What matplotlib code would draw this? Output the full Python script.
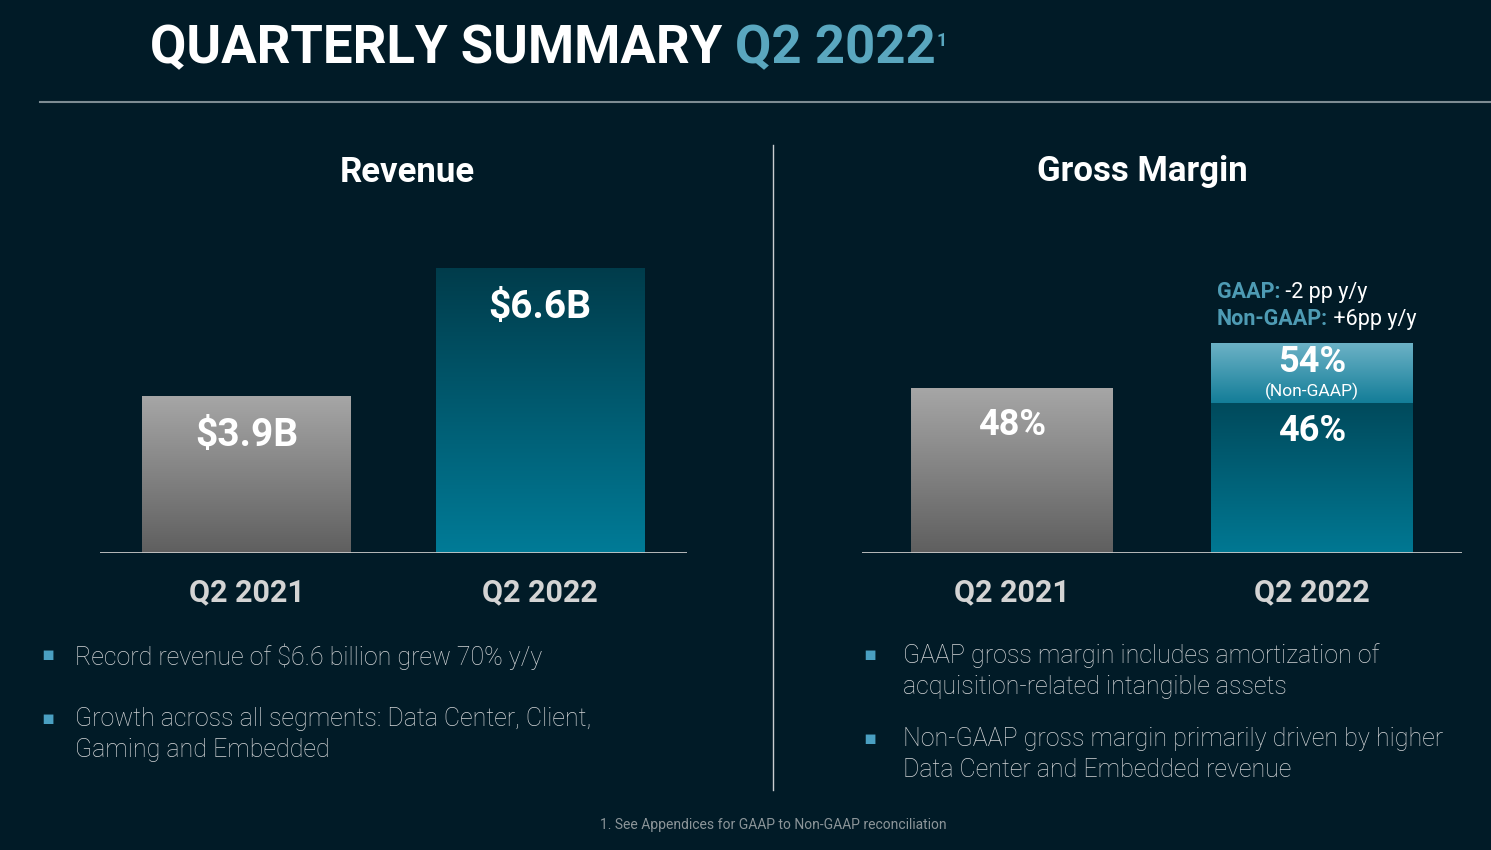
import numpy as np
import matplotlib.pyplot as plt
from matplotlib.colors import LinearSegmentedColormap

W, H = 1491, 850
BG = '#011b27'

quarters = ['Q2 2021', 'Q2 2022']
revenue = [3.9, 6.6]
revenue_labels = ['$3.9B', '$6.6B']
gaap_margin = [48, 46]
gaap_labels = ['48%', '46%']
non_gaap_margin = 54
non_gaap_label = '54%'

left_bullets = ['Record revenue of $6.6 billion grew 70% y/y',
                'Growth across all segments: Data Center, Client,\nGaming and Embedded']
right_bullets = ['GAAP gross margin includes amortization of\nacquisition-related intangible assets',
                 'Non-GAAP gross margin primarily driven by higher\nData Center and Embedded revenue']

GRAY = ('#5f5f5f', '#a6a6a6')
TEAL = ('#017b97', '#003c4b')
TEAL2 = ('#017893', '#004a5c')
LIGHT = ('#137d98', '#6cb2c6')
ACCENT = '#5aa7bf'


def P(x, y):
    return x / W, 1 - y / H


def grad_fill(ax, patch, c_bot, c_top, y0):
    x, y = patch.get_x(), patch.get_y()
    w, h = patch.get_width(), patch.get_height()
    cmap = LinearSegmentedColormap.from_list('g', [c_bot, c_top])
    grad = np.linspace(0, 1, 256).reshape(-1, 1)
    top = y + h
    bot = max(y, y0)
    im = ax.imshow(grad, cmap=cmap, origin='lower', aspect='auto',
                   extent=[x, x + w, bot, top], zorder=2)
    im.set_clip_path(patch)
    patch.set_alpha(0)


fig = plt.figure(figsize=(W / 100, H / 100), dpi=100, facecolor=BG)
ov = fig.add_axes([0, 0, 1, 1])
ov.axis('off')
ov.set_xlim(0, 1)
ov.set_ylim(0, 1)

BODY = ['Roboto', 'DejaVu Sans']

# title
t1 = ov.text(*P(150, 49), 'QUARTERLY SUMMARY ', color='white', fontsize=38,
             fontweight='bold', family=BODY, va='center', ha='left')
t2 = ov.annotate('Q2 2022', xy=(1, 0), xycoords=t1, va='bottom', ha='left',
                 color=ACCENT, fontsize=38, fontweight='bold', family=BODY)
ov.annotate('1', xy=(1, 1), xycoords=t2, va='top', ha='left', xytext=(0, -6),
            textcoords='offset points', color=ACCENT, fontsize=13,
            fontweight='bold', family=BODY)

ov.plot([40 / W, 1], [1 - 102 / H] * 2, color='#7d8c93', lw=1.5)
ov.plot([773 / W] * 2, [1 - 145 / H, 1 - 790 / H], color='#c9cdd0', lw=1)

# chart panels
axL = fig.add_axes([100 / W, 1 - 553 / H, 587 / W, 303 / H])
axR = fig.add_axes([862 / W, 1 - 553 / H, 600 / W, 303 / H])
axL.set_ylim(0.59, 6.98)
axR.set_ylim(26, 66.4)
for ax in (axL, axR):
    ax.set_facecolor('none')
    ax.set_xlim(-0.5, 1.5)
    for s in ax.spines.values():
        s.set_visible(False)
    ax.set_xticks([])
    ax.set_yticks([])
    ax.axhline(ax.get_ylim()[0], color='#c8c8c8', lw=2, zorder=5)

x = np.arange(len(quarters))
bars = axL.bar(x, revenue, width=0.711, zorder=1)
grad_fill(axL, bars[0], *GRAY, 0.59)
grad_fill(axL, bars[1], *TEAL, 0.59)
for i, (v, lab) in enumerate(zip(revenue, revenue_labels)):
    axL.annotate(lab, (x[i], v), xytext=(0, -39), textcoords='offset pixels',
                 ha='center', va='center', color='white', fontsize=28,
                 fontweight='bold', family=BODY, zorder=6)

bars = axR.bar(x, gaap_margin, width=0.671, zorder=1)
grad_fill(axR, bars[0], *GRAY, 26)
grad_fill(axR, bars[1], *TEAL2, 26)
ng = axR.bar(x[1], non_gaap_margin - gaap_margin[1], bottom=gaap_margin[1],
             width=0.671, zorder=1)
grad_fill(axR, ng[0], *LIGHT, gaap_margin[1])
for i, (v, lab, dy) in enumerate(zip(gaap_margin, gaap_labels, (-37, -28))):
    axR.annotate(lab, (x[i], v), xytext=(0, dy), textcoords='offset pixels',
                 ha='center', va='center', color='white', fontsize=26,
                 fontweight='bold', family=BODY, zorder=6)
axR.annotate(non_gaap_label, (x[1], non_gaap_margin), xytext=(0, -19),
             textcoords='offset pixels', ha='center', va='center', color='white',
             fontsize=26, fontweight='bold', family=BODY, zorder=6)
axR.annotate('(Non-GAAP)', (x[1], non_gaap_margin), xytext=(0, -48),
             textcoords='offset pixels', ha='center', va='center', color='white',
             fontsize=12.5, family=BODY, zorder=6)

# category labels & panel titles
for ax in (axL, axR):
    for i, q in enumerate(quarters):
        ax.annotate(q, (x[i], ax.get_ylim()[0]), xytext=(0, -39),
                    textcoords='offset pixels', ha='center', va='center',
                    color='#d4d4d4', fontsize=22, fontweight='bold', family=BODY,
                    annotation_clip=False)

ov.text(*P(407, 172), 'Revenue', color='white', fontsize=25, fontweight='bold',
        family=BODY, ha='center', va='center')
ov.text(*P(1142, 172), 'Gross Margin', color='white', fontsize=25,
        fontweight='bold', family=BODY, ha='center', va='center')

# y/y notes
for y, key, rest in ((292, 'GAAP:', ' -2 pp y/y'), (319, 'Non-GAAP:', ' +6pp y/y')):
    k = ov.text(*P(1217, y), key, color='#4e9bb4', fontsize=15.5, fontweight='bold',
                family=BODY, ha='left', va='center')
    ov.annotate(rest, xy=(1, 0), xycoords=k, va='bottom', ha='left',
                color='white', fontsize=15.5, family=BODY)


# bullets
def bullets(xb, x0, ys, texts):
    for y, t in zip(ys, texts):
        ov.text(*P(xb, y), '\u25aa', color='#4aa0c2', fontsize=14,
                ha='center', va='center', family=['DejaVu Sans'])
        ov.text(*P(x0, y - 12), t, color='#d4d6d8', fontsize=18, family=BODY,
                fontweight='light', ha='left', va='top', linespacing=1.35)


bullets(48, 75, [655, 719], left_bullets)
bullets(870, 903, [655, 739], right_bullets)

ov.text(*P(773, 825), '1. See Appendices for GAAP to Non-GAAP reconciliation',
        color='#8c9599', fontsize=10, family=BODY, ha='center', va='center')

fig.savefig('out.png', dpi=100, facecolor=BG)
